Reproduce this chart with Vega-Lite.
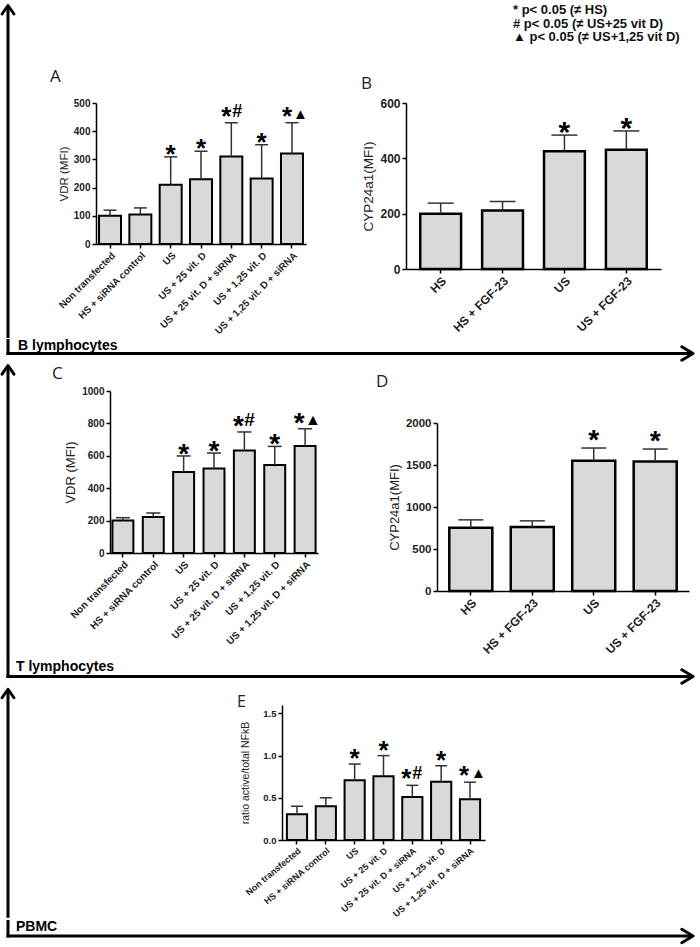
{
  "$schema": "https://vega.github.io/schema/vega-lite/v6.json",
  "padding": {"left": 0, "top": 3, "right": 0, "bottom": 0},
  "background": "white",
  "datasets": {
    "vdrB": [
      {"group": "Non transfected", "value": 100, "err": 120, "star": "", "extra": ""},
      {"group": "HS + siRNA control", "value": 105, "err": 128, "star": "", "extra": ""},
      {"group": "US", "value": 210, "err": 309, "star": "*", "extra": ""},
      {"group": "US + 25 vit. D", "value": 230, "err": 329, "star": "*", "extra": ""},
      {"group": "US + 25 vit. D + siRNA", "value": 310, "err": 430, "star": "*", "extra": "#"},
      {"group": "US + 1,25 vit. D", "value": 232, "err": 352, "star": "*", "extra": ""},
      {"group": "US + 1,25 vit. D + siRNA", "value": 321, "err": 430, "star": "*", "extra": "▲"}
    ],
    "cypB": [
      {"group": "HS", "value": 200, "err": 238, "star": ""},
      {"group": "HS + FGF-23", "value": 211, "err": 244, "star": ""},
      {"group": "US", "value": 426, "err": 484, "star": "*"},
      {"group": "US + FGF-23", "value": 431, "err": 499, "star": "*"}
    ],
    "vdrT": [
      {"group": "Non transfected", "value": 200, "err": 218, "star": "", "extra": ""},
      {"group": "HS + siRNA control", "value": 222, "err": 247, "star": "", "extra": ""},
      {"group": "US", "value": 500, "err": 599, "star": "*", "extra": ""},
      {"group": "US + 25 vit. D", "value": 521, "err": 617, "star": "*", "extra": ""},
      {"group": "US + 25 vit. D + siRNA", "value": 632, "err": 747, "star": "*", "extra": "#"},
      {"group": "US + 1,25 vit. D", "value": 543, "err": 658, "star": "*", "extra": ""},
      {"group": "US + 1,25 vit. D + siRNA", "value": 660, "err": 767, "star": "*", "extra": "▲"}
    ],
    "cypT": [
      {"group": "HS", "value": 752, "err": 847, "star": ""},
      {"group": "HS + FGF-23", "value": 763, "err": 835, "star": ""},
      {"group": "US", "value": 1551, "err": 1702, "star": "*"},
      {"group": "US + FGF-23", "value": 1543, "err": 1690, "star": "*"}
    ],
    "nfkb": [
      {"group": "Non transfected", "value": 0.305, "err": 0.4, "star": "", "extra": ""},
      {"group": "HS + siRNA control", "value": 0.4, "err": 0.5, "star": "", "extra": ""},
      {"group": "US", "value": 0.707, "err": 0.9, "star": "*", "extra": ""},
      {"group": "US + 25 vit. D", "value": 0.755, "err": 1.0, "star": "*", "extra": ""},
      {"group": "US + 25 vit. D + siRNA", "value": 0.51, "err": 0.648, "star": "*", "extra": "#"},
      {"group": "US + 1,25 vit. D", "value": 0.69, "err": 0.88, "star": "*", "extra": ""},
      {"group": "US + 1,25 vit. D + siRNA", "value": 0.484, "err": 0.685, "star": "*", "extra": "▲"}
    ]
  },
  "spacing": 0,
  "vconcat": [
    {
      "spacing": 34,
      "hconcat": [
        {
          "data": {"values": [{}]},
          "width": 16, "height": 235,
          "layer": [
            {"mark": {"type": "rect", "color": "#000"},
             "encoding": {"x": {"datum": 0.40625, "type": "quantitative", "scale": {"domain": [0, 1]}, "axis": null}, "x2": {"datum": 0.59375},
                          "y": {"datum": 0, "type": "quantitative", "scale": {"domain": [0, 1]}, "axis": null}, "y2": {"datum": 1.4064}}},
            {"mark": {"type": "point", "shape": "M -0.7 1 L 0 0 L 0.7 1", "size": 289, "filled": false, "stroke": "#000", "strokeWidth": 3, "strokeJoin": "round", "strokeCap": "round", "opacity": 1},
             "encoding": {"x": {"datum": 0.5, "type": "quantitative"}, "y": {"datum": 1.4149, "type": "quantitative"}}}
          ]
        },
        {
          "spacing": 53,
          "title": {"text": ["\u00a0* p< 0.05 (≠ HS)", "\u00a0# p< 0.05 (≠ US+25 vit D)", "▲ p< 0.05 (≠ US+1,25 vit D)"], "anchor": "end", "frame": "bounds", "align": "left", "dx": -148, "font": "Liberation Sans", "fontSize": 13, "fontWeight": "bold", "lineHeight": 13.5, "color": "#111", "offset": 24},
          "hconcat": [
            {
              "data": {"name": "vdrB"},
              "width": 210, "height": 141,
              "title": {"text": "A", "dx": -46, "offset": 12},
              "encoding": {"x": {"field": "group", "type": "nominal", "sort": null, "title": null, "scale": {"paddingInner": 0.275, "paddingOuter": 0.1}, "axis": {"labelFontSize": 9.8}}},
              "layer": [
                {"mark": {"type": "bar", "fill": "#d9d9d9", "stroke": "#000", "strokeWidth": 2},
                 "encoding": {"y": {"field": "value", "type": "quantitative", "title": "VDR (MFI)", "scale": {"domain": [0, 500]}, "axis": {"values": [0, 100, 200, 300, 400, 500], "labelFontSize": 10, "titleFontSize": 11.5}}}},
                {"mark": {"type": "rule", "color": "#333", "strokeWidth": 1.5},
                 "encoding": {"y": {"field": "value", "type": "quantitative", "title": "VDR (MFI)", "axis": {"values": [0, 100, 200, 300, 400, 500], "labelFontSize": 10, "titleFontSize": 11.5}}, "y2": {"field": "err"}}},
                {"mark": {"type": "tick", "orient": "horizontal", "size": 13, "thickness": 1.5, "color": "#333", "opacity": 1},
                 "encoding": {"y": {"field": "err", "type": "quantitative", "title": "VDR (MFI)", "axis": {"values": [0, 100, 200, 300, 400, 500], "labelFontSize": 10, "titleFontSize": 11.5}}}},
                {"transform": [{"filter": "datum.star == '*' && datum.extra == ''"}],
                 "mark": {"type": "text", "text": "*", "fontSize": 26, "fontWeight": "bold", "baseline": "alphabetic", "align": "center", "dy": 6, "color": "#000"},
                 "encoding": {"y": {"field": "err", "type": "quantitative", "title": "VDR (MFI)", "axis": {"values": [0, 100, 200, 300, 400, 500], "labelFontSize": 10, "titleFontSize": 11.5}}}},
                {"transform": [{"filter": "datum.extra != ''"}],
                 "mark": {"type": "text", "text": "*", "fontSize": 26, "fontWeight": "bold", "baseline": "alphabetic", "align": "center", "dx": -5, "dy": 2, "color": "#000"},
                 "encoding": {"y": {"field": "err", "type": "quantitative", "title": "VDR (MFI)", "axis": {"values": [0, 100, 200, 300, 400, 500], "labelFontSize": 10, "titleFontSize": 11.5}}}},
                {"transform": [{"filter": "datum.extra == '#'"}],
                 "mark": {"type": "text", "text": "#", "fontSize": 18, "fontWeight": "bold", "baseline": "alphabetic", "align": "left", "dx": 1, "dy": -6, "color": "#000"},
                 "encoding": {"y": {"field": "err", "type": "quantitative", "title": "VDR (MFI)", "axis": {"values": [0, 100, 200, 300, 400, 500], "labelFontSize": 10, "titleFontSize": 11.5}}}},
                {"transform": [{"filter": "datum.extra == '▲'"}],
                 "mark": {"type": "text", "text": "▲", "fontSize": 15, "baseline": "alphabetic", "align": "left", "dx": 1, "dy": -4, "color": "#000"},
                 "encoding": {"y": {"field": "err", "type": "quantitative", "title": "VDR (MFI)", "axis": {"values": [0, 100, 200, 300, 400, 500], "labelFontSize": 10, "titleFontSize": 11.5}}}}
              ]
            },
            {
              "data": {"name": "cypB"},
              "width": 255, "height": 166,
              "title": {"text": "B", "dx": -45, "offset": 4},
              "encoding": {"x": {"field": "group", "type": "nominal", "sort": null, "title": null, "scale": {"paddingInner": 0.34, "paddingOuter": 0.23}, "axis": {"labelFontSize": 12}}},
              "layer": [
                {"mark": {"type": "bar", "fill": "#d9d9d9", "stroke": "#000", "strokeWidth": 2.5},
                 "encoding": {"y": {"field": "value", "type": "quantitative", "title": "CYP24a1(MFI)", "scale": {"domain": [0, 600]}, "axis": {"values": [0, 200, 400, 600], "labelFontSize": 12, "titleFontSize": 13.5}}}},
                {"mark": {"type": "rule", "color": "#333", "strokeWidth": 1.5},
                 "encoding": {"y": {"field": "value", "type": "quantitative", "title": "CYP24a1(MFI)", "axis": {"values": [0, 200, 400, 600], "labelFontSize": 12, "titleFontSize": 13.5}}, "y2": {"field": "err"}}},
                {"mark": {"type": "tick", "orient": "horizontal", "size": 26, "thickness": 1.5, "color": "#333", "opacity": 1},
                 "encoding": {"y": {"field": "err", "type": "quantitative", "title": "CYP24a1(MFI)", "axis": {"values": [0, 200, 400, 600], "labelFontSize": 12, "titleFontSize": 13.5}}}},
                {"transform": [{"filter": "datum.star == '*'"}],
                 "mark": {"type": "text", "text": "*", "fontSize": 30, "fontWeight": "bold", "baseline": "alphabetic", "align": "center", "dy": 7, "color": "#000"},
                 "encoding": {"y": {"field": "err", "type": "quantitative", "title": "CYP24a1(MFI)", "axis": {"values": [0, 200, 400, 600], "labelFontSize": 12, "titleFontSize": 13.5}}}}
              ]
            }
          ]
        }
      ]
    },
    {
      "spacing": 0,
      "hconcat": [
        {
          "data": {"values": [{}]},
          "width": 16, "height": 20.5,
          "layer": [
            {"mark": {"type": "rect", "color": "#000"},
             "encoding": {"x": {"datum": 0.40625, "type": "quantitative", "scale": {"domain": [0, 1]}, "axis": null}, "x2": {"datum": 0.59375},
                          "y": {"datum": 0.4146, "type": "quantitative", "scale": {"domain": [0, 1]}, "axis": null}, "y2": {"datum": 1.1951}}},
            {"mark": {"type": "rect", "color": "#000"},
             "encoding": {"x": {"datum": 0.40625, "type": "quantitative"}, "x2": {"datum": 1},
                          "y": {"datum": 0.4146, "type": "quantitative"}, "y2": {"datum": 0.561}}}
          ]
        },
        {
          "data": {"values": [{}]},
          "width": 677, "height": 20.5,
          "layer": [
            {"mark": {"type": "rect", "color": "#000"},
             "encoding": {"x": {"datum": 0, "type": "quantitative", "scale": {"domain": [0, 1]}, "axis": null}, "x2": {"datum": 0.9985},
                          "y": {"datum": 0.4146, "type": "quantitative", "scale": {"domain": [0, 1]}, "axis": null}, "y2": {"datum": 0.561}}},
            {"mark": {"type": "point", "shape": "M -1 -0.6 L 0 0 L -1 0.6", "size": 500, "filled": false, "stroke": "#000", "strokeWidth": 3, "strokeJoin": "round", "strokeCap": "round", "opacity": 1},
             "encoding": {"x": {"datum": 1, "type": "quantitative"}, "y": {"datum": 0.4878, "type": "quantitative"}}},
            {"mark": {"type": "text", "text": "B lymphocytes", "font": "Liberation Sans", "fontSize": 14, "fontWeight": "bold", "align": "left", "baseline": "alphabetic", "dx": 2, "dy": -4, "color": "#000"},
             "encoding": {"x": {"datum": 0, "type": "quantitative"}, "y": {"datum": 0.4878, "type": "quantitative"}}}
          ]
        }
      ]
    },
    {
      "spacing": 36,
      "hconcat": [
        {
          "data": {"values": [{}]},
          "width": 16, "height": 268,
          "layer": [
            {"mark": {"type": "rect", "color": "#000"},
             "encoding": {"x": {"datum": 0.40625, "type": "quantitative", "scale": {"domain": [0, 1]}, "axis": null}, "x2": {"datum": 0.59375},
                          "y": {"datum": 0, "type": "quantitative", "scale": {"domain": [0, 1]}, "axis": null}, "y2": {"datum": 1.0869}}},
            {"mark": {"type": "point", "shape": "M -0.7 1 L 0 0 L 0.7 1", "size": 289, "filled": false, "stroke": "#000", "strokeWidth": 3, "strokeJoin": "round", "strokeCap": "round", "opacity": 1},
             "encoding": {"x": {"datum": 0.5, "type": "quantitative"}, "y": {"datum": 1.0944, "type": "quantitative"}}}
          ]
        },
        {
          "spacing": 55,
          "hconcat": [
            {
              "data": {"name": "vdrT"},
              "width": 208, "height": 162,
              "title": {"text": "C", "dx": -58, "offset": 3},
              "encoding": {"x": {"field": "group", "type": "nominal", "sort": null, "title": null, "scale": {"paddingInner": 0.31, "paddingOuter": 0.08}, "axis": {"labelFontSize": 10}}},
              "layer": [
                {"mark": {"type": "bar", "fill": "#d9d9d9", "stroke": "#000", "strokeWidth": 2},
                 "encoding": {"y": {"field": "value", "type": "quantitative", "title": "VDR (MFI)", "scale": {"domain": [0, 1000]}, "axis": {"values": [0, 200, 400, 600, 800, 1000], "format": "d", "labelFontSize": 10, "titleFontSize": 13}}}},
                {"mark": {"type": "rule", "color": "#333", "strokeWidth": 1.5},
                 "encoding": {"y": {"field": "value", "type": "quantitative", "title": "VDR (MFI)", "axis": {"values": [0, 200, 400, 600, 800, 1000], "format": "d", "labelFontSize": 10, "titleFontSize": 13}}, "y2": {"field": "err"}}},
                {"mark": {"type": "tick", "orient": "horizontal", "size": 14, "thickness": 1.5, "color": "#333", "opacity": 1},
                 "encoding": {"y": {"field": "err", "type": "quantitative", "title": "VDR (MFI)", "axis": {"values": [0, 200, 400, 600, 800, 1000], "format": "d", "labelFontSize": 10, "titleFontSize": 13}}}},
                {"transform": [{"filter": "datum.star == '*' && datum.extra == ''"}],
                 "mark": {"type": "text", "text": "*", "fontSize": 28, "fontWeight": "bold", "baseline": "alphabetic", "align": "center", "dy": 7, "color": "#000"},
                 "encoding": {"y": {"field": "err", "type": "quantitative", "title": "VDR (MFI)", "axis": {"values": [0, 200, 400, 600, 800, 1000], "format": "d", "labelFontSize": 10, "titleFontSize": 13}}}},
                {"transform": [{"filter": "datum.extra != ''"}],
                 "mark": {"type": "text", "text": "*", "fontSize": 28, "fontWeight": "bold", "baseline": "alphabetic", "align": "center", "dx": -6, "dy": 3, "color": "#000"},
                 "encoding": {"y": {"field": "err", "type": "quantitative", "title": "VDR (MFI)", "axis": {"values": [0, 200, 400, 600, 800, 1000], "format": "d", "labelFontSize": 10, "titleFontSize": 13}}}},
                {"transform": [{"filter": "datum.extra == '#'"}],
                 "mark": {"type": "text", "text": "#", "fontSize": 19, "fontWeight": "bold", "baseline": "alphabetic", "align": "left", "dx": 0, "dy": -6, "color": "#000"},
                 "encoding": {"y": {"field": "err", "type": "quantitative", "title": "VDR (MFI)", "axis": {"values": [0, 200, 400, 600, 800, 1000], "format": "d", "labelFontSize": 10, "titleFontSize": 13}}}},
                {"transform": [{"filter": "datum.extra == '▲'"}],
                 "mark": {"type": "text", "text": "▲", "fontSize": 16, "baseline": "alphabetic", "align": "left", "dx": 0, "dy": -4, "color": "#000"},
                 "encoding": {"y": {"field": "err", "type": "quantitative", "title": "VDR (MFI)", "axis": {"values": [0, 200, 400, 600, 800, 1000], "format": "d", "labelFontSize": 10, "titleFontSize": 13}}}}
              ]
            },
            {
              "data": {"name": "cypT"},
              "width": 252, "height": 200,
              "title": {"text": "D", "dx": -61, "offset": 0},
              "encoding": {"x": {"field": "group", "type": "nominal", "sort": null, "title": null, "scale": {"paddingInner": 0.3, "paddingOuter": 0.2}, "axis": {"labelFontSize": 12}}},
              "layer": [
                {"mark": {"type": "bar", "fill": "#d9d9d9", "stroke": "#000", "strokeWidth": 2.5},
                 "encoding": {"y": {"field": "value", "type": "quantitative", "title": "CYP24a1(MFI)", "scale": {"domain": [0, 2000], "range": [200, 32], "nice": false}, "axis": {"values": [0, 500, 1000, 1500, 2000], "format": "d", "labelFontSize": 11.5, "titleFontSize": 13}}}},
                {"mark": {"type": "rule", "color": "#333", "strokeWidth": 1.5},
                 "encoding": {"y": {"field": "value", "type": "quantitative", "title": "CYP24a1(MFI)", "axis": {"values": [0, 500, 1000, 1500, 2000], "format": "d", "labelFontSize": 11.5, "titleFontSize": 13}}, "y2": {"field": "err"}}},
                {"mark": {"type": "tick", "orient": "horizontal", "size": 25, "thickness": 1.5, "color": "#333", "opacity": 1},
                 "encoding": {"y": {"field": "err", "type": "quantitative", "title": "CYP24a1(MFI)", "axis": {"values": [0, 500, 1000, 1500, 2000], "format": "d", "labelFontSize": 11.5, "titleFontSize": 13}}}},
                {"transform": [{"filter": "datum.star == '*'"}],
                 "mark": {"type": "text", "text": "*", "fontSize": 28, "fontWeight": "bold", "baseline": "alphabetic", "align": "center", "dy": 1, "color": "#000"},
                 "encoding": {"y": {"field": "err", "type": "quantitative", "title": "CYP24a1(MFI)", "axis": {"values": [0, 500, 1000, 1500, 2000], "format": "d", "labelFontSize": 11.5, "titleFontSize": 13}}}}
              ]
            }
          ]
        }
      ]
    },
    {
      "spacing": 0,
      "hconcat": [
        {
          "data": {"values": [{}]},
          "width": 16, "height": 23.5,
          "layer": [
            {"mark": {"type": "rect", "color": "#000"},
             "encoding": {"x": {"datum": 0.40625, "type": "quantitative", "scale": {"domain": [0, 1]}, "axis": null}, "x2": {"datum": 0.59375},
                          "y": {"datum": 0.3617, "type": "quantitative", "scale": {"domain": [0, 1]}, "axis": null}, "y2": {"datum": 1.1702}}},
            {"mark": {"type": "rect", "color": "#000"},
             "encoding": {"x": {"datum": 0.40625, "type": "quantitative"}, "x2": {"datum": 1},
                          "y": {"datum": 0.3617, "type": "quantitative"}, "y2": {"datum": 0.4894}}}
          ]
        },
        {
          "data": {"values": [{}]},
          "width": 677, "height": 23.5,
          "layer": [
            {"mark": {"type": "rect", "color": "#000"},
             "encoding": {"x": {"datum": 0, "type": "quantitative", "scale": {"domain": [0, 1]}, "axis": null}, "x2": {"datum": 0.9985},
                          "y": {"datum": 0.3617, "type": "quantitative", "scale": {"domain": [0, 1]}, "axis": null}, "y2": {"datum": 0.4894}}},
            {"mark": {"type": "point", "shape": "M -1 -0.6 L 0 0 L -1 0.6", "size": 500, "filled": false, "stroke": "#000", "strokeWidth": 3, "strokeJoin": "round", "strokeCap": "round", "opacity": 1},
             "encoding": {"x": {"datum": 1, "type": "quantitative"}, "y": {"datum": 0.4255, "type": "quantitative"}}},
            {"mark": {"type": "text", "text": "T lymphocytes", "font": "Liberation Sans", "fontSize": 14, "fontWeight": "bold", "align": "left", "baseline": "alphabetic", "dx": 0, "dy": -5.5, "color": "#000"},
             "encoding": {"x": {"datum": 0, "type": "quantitative"}, "y": {"datum": 0.4255, "type": "quantitative"}}}
          ]
        }
      ]
    },
    {
      "spacing": 221,
      "hconcat": [
        {
          "data": {"values": [{}]},
          "width": 16, "height": 212.75,
          "layer": [
            {"mark": {"type": "rect", "color": "#000"},
             "encoding": {"x": {"datum": 0.40625, "type": "quantitative", "scale": {"domain": [0, 1]}, "axis": null}, "x2": {"datum": 0.59375},
                          "y": {"datum": 0, "type": "quantitative", "scale": {"domain": [0, 1]}, "axis": null}, "y2": {"datum": 1.0646}}},
            {"mark": {"type": "point", "shape": "M -0.7 1 L 0 0 L 0.7 1", "size": 289, "filled": false, "stroke": "#000", "strokeWidth": 3, "strokeJoin": "round", "strokeCap": "round", "opacity": 1},
             "encoding": {"x": {"datum": 0.5, "type": "quantitative"}, "y": {"datum": 1.074, "type": "quantitative"}}}
          ]
        },
        {
          "data": {"name": "nfkb"},
          "width": 203, "height": 135,
          "title": {"text": "E", "dx": -45, "offset": -5, "fontSize": 16},
          "encoding": {"x": {"field": "group", "type": "nominal", "sort": null, "title": null, "scale": {"paddingInner": 0.3, "paddingOuter": 0.17}, "axis": {"labelFontSize": 9, "labelAngle": -40}}},
          "layer": [
            {"mark": {"type": "bar", "fill": "#d9d9d9", "stroke": "#000", "strokeWidth": 2},
             "encoding": {"y": {"field": "value", "type": "quantitative", "title": "ratio active/total NFkB", "scale": {"domain": [0, 1.5]}, "axis": {"values": [0, 0.5, 1, 1.5], "format": ".1f", "labelFontSize": 9.5, "titleFontSize": 10.5, "titlePadding": 12}}}},
            {"mark": {"type": "rule", "color": "#333", "strokeWidth": 1.5},
             "encoding": {"y": {"field": "value", "type": "quantitative", "title": "ratio active/total NFkB", "axis": {"values": [0, 0.5, 1, 1.5], "format": ".1f", "labelFontSize": 9.5, "titleFontSize": 10.5, "titlePadding": 12}}, "y2": {"field": "err"}}},
            {"mark": {"type": "tick", "orient": "horizontal", "size": 12, "thickness": 1.5, "color": "#333", "opacity": 1},
             "encoding": {"y": {"field": "err", "type": "quantitative", "title": "ratio active/total NFkB", "axis": {"values": [0, 0.5, 1, 1.5], "format": ".1f", "labelFontSize": 9.5, "titleFontSize": 10.5, "titlePadding": 12}}}},
            {"transform": [{"filter": "datum.star == '*' && datum.extra == ''"}],
             "mark": {"type": "text", "text": "*", "fontSize": 26, "fontWeight": "bold", "baseline": "alphabetic", "align": "center", "dy": 3, "color": "#000"},
             "encoding": {"y": {"field": "err", "type": "quantitative", "title": "ratio active/total NFkB", "axis": {"values": [0, 0.5, 1, 1.5], "format": ".1f", "labelFontSize": 9.5, "titleFontSize": 10.5, "titlePadding": 12}}}},
            {"transform": [{"filter": "datum.extra != ''"}],
             "mark": {"type": "text", "text": "*", "fontSize": 26, "fontWeight": "bold", "baseline": "alphabetic", "align": "center", "dx": -6, "dy": 2, "color": "#000"},
             "encoding": {"y": {"field": "err", "type": "quantitative", "title": "ratio active/total NFkB", "axis": {"values": [0, 0.5, 1, 1.5], "format": ".1f", "labelFontSize": 9.5, "titleFontSize": 10.5, "titlePadding": 12}}}},
            {"transform": [{"filter": "datum.extra == '#'"}],
             "mark": {"type": "text", "text": "#", "fontSize": 18, "fontWeight": "bold", "baseline": "alphabetic", "align": "left", "dx": 0, "dy": -6, "color": "#000"},
             "encoding": {"y": {"field": "err", "type": "quantitative", "title": "ratio active/total NFkB", "axis": {"values": [0, 0.5, 1, 1.5], "format": ".1f", "labelFontSize": 9.5, "titleFontSize": 10.5, "titlePadding": 12}}}},
            {"transform": [{"filter": "datum.extra == '▲'"}],
             "mark": {"type": "text", "text": "▲", "fontSize": 15, "baseline": "alphabetic", "align": "left", "dx": 1, "dy": -4, "color": "#000"},
             "encoding": {"y": {"field": "err", "type": "quantitative", "title": "ratio active/total NFkB", "axis": {"values": [0, 0.5, 1, 1.5], "format": ".1f", "labelFontSize": 9.5, "titleFontSize": 10.5, "titlePadding": 12}}}}
          ]
        }
      ]
    },
    {
      "spacing": 0,
      "hconcat": [
        {
          "data": {"values": [{}]},
          "width": 16, "height": 21,
          "layer": [
            {"mark": {"type": "rect", "color": "#000"},
             "encoding": {"x": {"datum": 0.40625, "type": "quantitative", "scale": {"domain": [0, 1]}, "axis": null}, "x2": {"datum": 0.59375},
                          "y": {"datum": 0.4048, "type": "quantitative", "scale": {"domain": [0, 1]}, "axis": null}, "y2": {"datum": 1.2381}}},
            {"mark": {"type": "rect", "color": "#000"},
             "encoding": {"x": {"datum": 0.40625, "type": "quantitative"}, "x2": {"datum": 1},
                          "y": {"datum": 0.4048, "type": "quantitative"}, "y2": {"datum": 0.5476}}}
          ]
        },
        {
          "data": {"values": [{}]},
          "width": 677, "height": 21,
          "layer": [
            {"mark": {"type": "rect", "color": "#000"},
             "encoding": {"x": {"datum": 0, "type": "quantitative", "scale": {"domain": [0, 1]}, "axis": null}, "x2": {"datum": 0.9985},
                          "y": {"datum": 0.4048, "type": "quantitative", "scale": {"domain": [0, 1]}, "axis": null}, "y2": {"datum": 0.5476}}},
            {"mark": {"type": "point", "shape": "M -1 -0.6 L 0 0 L -1 0.6", "size": 500, "filled": false, "stroke": "#000", "strokeWidth": 3, "strokeJoin": "round", "strokeCap": "round", "opacity": 1},
             "encoding": {"x": {"datum": 1, "type": "quantitative"}, "y": {"datum": 0.4762, "type": "quantitative"}}},
            {"mark": {"type": "text", "text": "PBMC", "font": "Liberation Sans", "fontSize": 14, "fontWeight": "bold", "align": "left", "baseline": "alphabetic", "dx": 0, "dy": -5, "color": "#000"},
             "encoding": {"x": {"datum": 0, "type": "quantitative"}, "y": {"datum": 0.4762, "type": "quantitative"}}}
          ]
        }
      ]
    }
  ],
  "config": {
    "view": {"stroke": null},
    "font": "Liberation Sans",
    "axis": {"grid": false, "labelOverlap": false, "domainColor": "#000", "domainWidth": 1.5, "tickColor": "#000", "tickWidth": 1.5, "tickSize": 4, "labelFont": "Liberation Sans", "labelFontWeight": "bold", "labelColor": "#222", "labelPadding": 2, "titleFont": "Liberation Sans", "titleFontWeight": "normal", "titleColor": "#222", "titlePadding": 4},
    "axisX": {"labelAngle": -45},
    "title": {"font": "Open Sans", "fontWeight": "normal", "fontSize": 17, "anchor": "start", "frame": "group", "color": "#222"}
  }
}
